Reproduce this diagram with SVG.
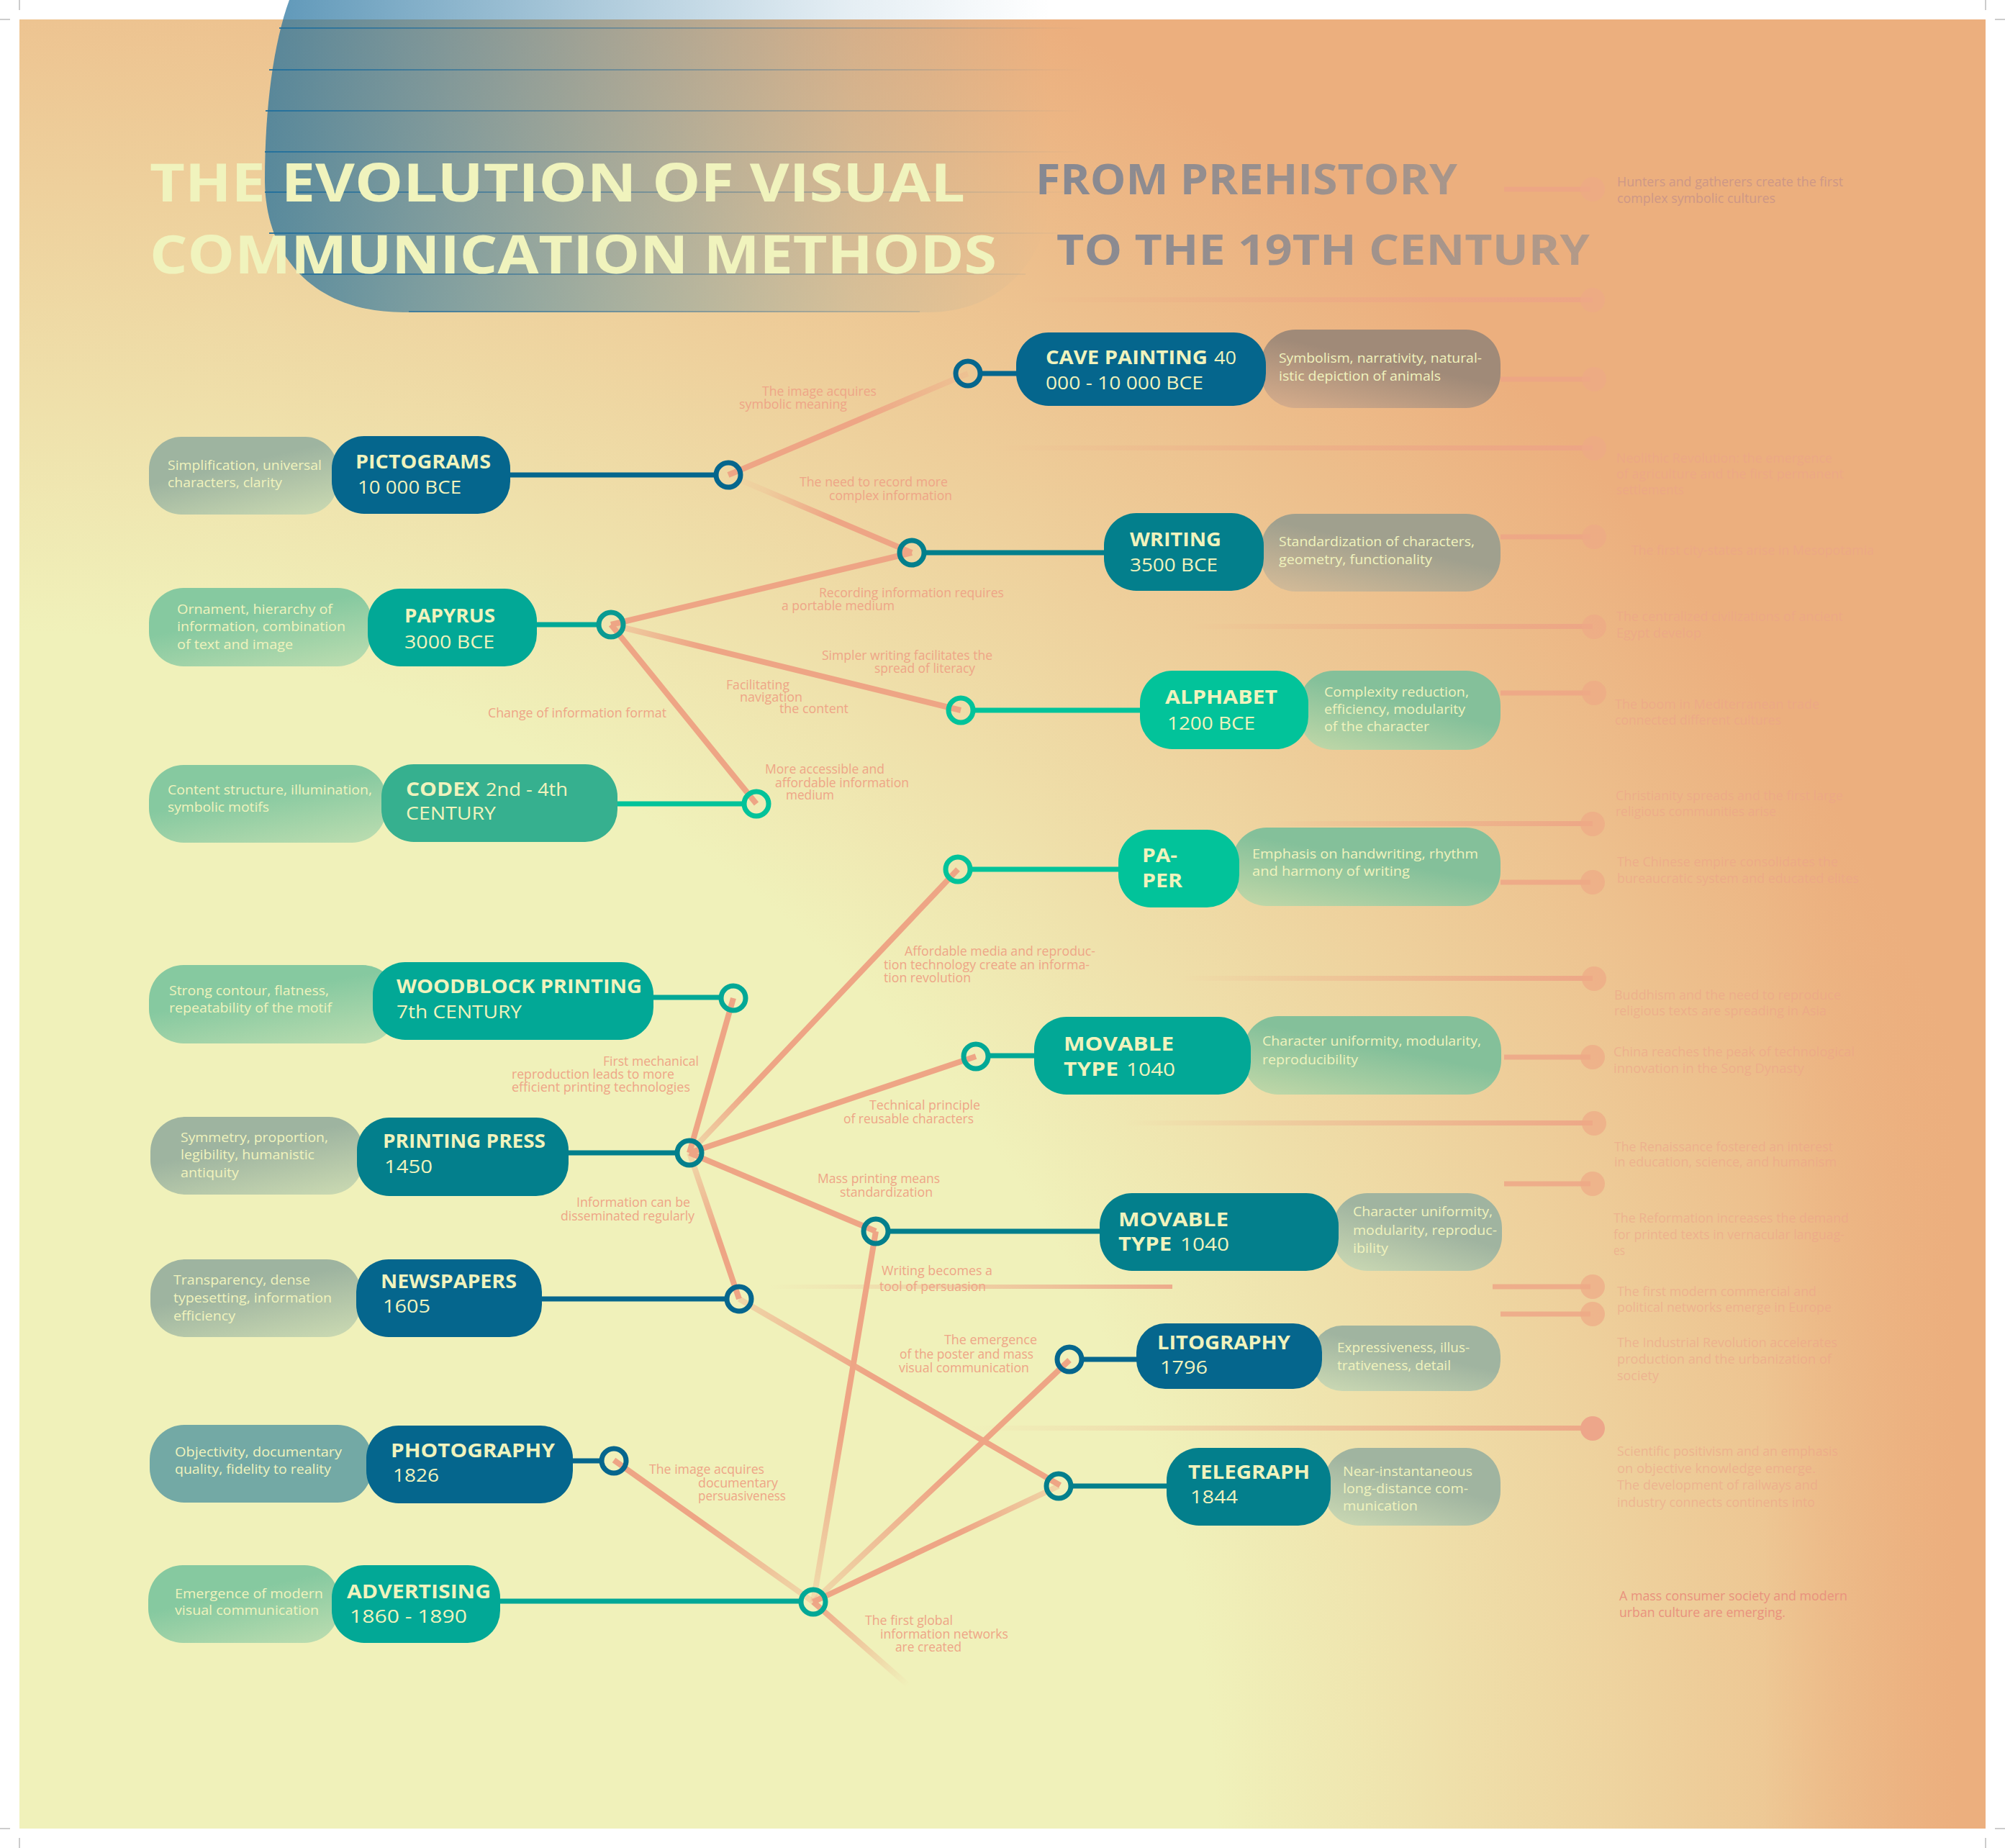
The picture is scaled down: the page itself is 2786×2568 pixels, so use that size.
<svg xmlns="http://www.w3.org/2000/svg" width="2786" height="2568" viewBox="0 0 2786 2568">
<style>
.nt{font-family:"Open Sans","DejaVu Sans",sans-serif;font-weight:700;font-size:26px;fill:#F0F3BD}
.nr{font-family:"Open Sans","DejaVu Sans",sans-serif;font-weight:400;font-size:26px;fill:#F0F3BD}
.dt{font-family:"Open Sans","DejaVu Sans",sans-serif;font-size:19px;fill:#F0F3BD}
.lb{font-family:"Open Sans","DejaVu Sans",sans-serif;font-size:18px;fill:#EEA587}
.tl{font-family:"Open Sans","DejaVu Sans",sans-serif;font-size:19px;fill:#EDA38A;fill-opacity:0.6}
.tt{font-family:"Open Sans","DejaVu Sans",sans-serif;font-weight:700;font-size:74px;fill:#F0F3BD}
.st{font-family:"Open Sans","DejaVu Sans",sans-serif;font-weight:700;font-size:59px;fill:#8E8A8C}
.edge{fill:none;stroke-width:8}
.hc{fill:none;stroke-width:7}
.jc{fill:none;stroke-width:7}
.tc{fill:#EEA986;fill-opacity:0.7}
.tline{fill:none;stroke-width:7}
.mark{stroke:#9a9a9a;stroke-width:1}
</style>
<defs>
<radialGradient id="bgO" gradientUnits="userSpaceOnUse" cx="0" cy="2568" r="2932">
<stop offset="0" stop-color="#ECAF7E" stop-opacity="0"/>
<stop offset="0.576" stop-color="#ECAF7E" stop-opacity="0"/>
<stop offset="1" stop-color="#ECAF7E" stop-opacity="1"/>
</radialGradient>
<linearGradient id="bgR" gradientUnits="userSpaceOnUse" x1="2450" y1="0" x2="2720" y2="0">
<stop offset="0" stop-color="#ECAF7E" stop-opacity="0"/>
<stop offset="1" stop-color="#ECAF7E" stop-opacity="1"/>
</linearGradient>
<linearGradient id="blob" gradientUnits="userSpaceOnUse" x1="368" y1="0" x2="1460" y2="0">
<stop offset="0" stop-color="#1E6E9C" stop-opacity="0.72"/>
<stop offset="0.4" stop-color="#2A76A2" stop-opacity="0.4"/>
<stop offset="0.75" stop-color="#3A80AA" stop-opacity="0.13"/>
<stop offset="1" stop-color="#3A80AA" stop-opacity="0"/>
</linearGradient>
<linearGradient id="blobLine" gradientUnits="userSpaceOnUse" x1="368" y1="0" x2="1510" y2="0">
<stop offset="0" stop-color="#1E6E9C" stop-opacity="0.9"/>
<stop offset="0.6" stop-color="#5A7F95" stop-opacity="0.45"/>
<stop offset="1" stop-color="#5A7F95" stop-opacity="0"/>
</linearGradient>
<linearGradient id="subG" gradientUnits="userSpaceOnUse" x1="1440" y1="0" x2="2210" y2="0">
<stop offset="0" stop-color="#858892"/>
<stop offset="1" stop-color="#B49A88"/>
</linearGradient>
<linearGradient id="tlFade" x1="0" y1="0" x2="1" y2="0">
<stop offset="0" stop-color="#EDA486" stop-opacity="0"/>
<stop offset="0.7" stop-color="#EDA486" stop-opacity="0.6"/>
<stop offset="1" stop-color="#EDA486" stop-opacity="0.9"/>
</linearGradient>
<linearGradient id="bubLgrey" x1="0.55" y1="0.3" x2="0.95" y2="1">
<stop offset="0" stop-color="#9EB4A0"/><stop offset="1" stop-color="#CBDAB2"/>
</linearGradient>
<linearGradient id="bubLmint" x1="0.55" y1="0.3" x2="0.95" y2="1">
<stop offset="0" stop-color="#86C9A0"/><stop offset="1" stop-color="#BCDDB0"/>
</linearGradient>
<linearGradient id="bubRcave" x1="0.45" y1="0.35" x2="0.02" y2="1">
<stop offset="0" stop-color="#A08A78"/><stop offset="1" stop-color="#D8AE8C"/>
</linearGradient>
<linearGradient id="bubRwrite" x1="0.45" y1="0.35" x2="0.02" y2="1">
<stop offset="0" stop-color="#A0A08E"/><stop offset="1" stop-color="#D6BC98"/>
</linearGradient>
<linearGradient id="bubRmint" x1="0.45" y1="0.35" x2="0.02" y2="1">
<stop offset="0" stop-color="#84C09A"/><stop offset="1" stop-color="#C2D8A8"/>
</linearGradient>
<linearGradient id="bubRgrey" x1="0.45" y1="0.35" x2="0.02" y2="1">
<stop offset="0" stop-color="#A0B4A0"/><stop offset="1" stop-color="#CCDAB4"/>
</linearGradient>
<linearGradient id="e1" gradientUnits="userSpaceOnUse" x1="1012" y1="660" x2="1345" y2="519"><stop offset="0" stop-color="#EEA585"/><stop offset="0.55" stop-color="#EEA585"/><stop offset="1" stop-color="#EEA585" stop-opacity="0.2"/></linearGradient>
<linearGradient id="e2" gradientUnits="userSpaceOnUse" x1="1012" y1="660" x2="1267" y2="768"><stop offset="0" stop-color="#EEA585" stop-opacity="0"/><stop offset="0.2" stop-color="#EEA585" stop-opacity="0.2"/><stop offset="0.55" stop-color="#EEA585"/><stop offset="1" stop-color="#EEA585"/></linearGradient>
<linearGradient id="e4" gradientUnits="userSpaceOnUse" x1="849" y1="868" x2="1335" y2="987"><stop offset="0" stop-color="#EEA585" stop-opacity="0.3"/><stop offset="0.25" stop-color="#EEA585"/><stop offset="1" stop-color="#EEA585"/></linearGradient>
<linearGradient id="e7" gradientUnits="userSpaceOnUse" x1="958" y1="1602" x2="1331" y2="1208"><stop offset="0" stop-color="#EEA585" stop-opacity="0.3"/><stop offset="0.22" stop-color="#EEA585"/><stop offset="1" stop-color="#EEA585"/></linearGradient>
<linearGradient id="e10" gradientUnits="userSpaceOnUse" x1="958" y1="1602" x2="1027" y2="1805"><stop offset="0" stop-color="#EEA585" stop-opacity="0.3"/><stop offset="0.6" stop-color="#EEA585"/><stop offset="1" stop-color="#EEA585"/></linearGradient>
<linearGradient id="e11" gradientUnits="userSpaceOnUse" x1="1027" y1="1805" x2="1473" y2="2064"><stop offset="0" stop-color="#EEA585" stop-opacity="0.35"/><stop offset="0.4" stop-color="#EEA585"/><stop offset="1" stop-color="#EEA585"/></linearGradient>
<linearGradient id="e12" gradientUnits="userSpaceOnUse" x1="1217" y1="1711" x2="1130" y2="2226"><stop offset="0" stop-color="#EEA585"/><stop offset="0.55" stop-color="#EEA585"/><stop offset="1" stop-color="#EEA585" stop-opacity="0.25"/></linearGradient>
<linearGradient id="e13" gradientUnits="userSpaceOnUse" x1="853" y1="2029" x2="1130" y2="2226"><stop offset="0" stop-color="#EEA585"/><stop offset="0.45" stop-color="#EEA585"/><stop offset="1" stop-color="#EEA585" stop-opacity="0.3"/></linearGradient>
<linearGradient id="e14" gradientUnits="userSpaceOnUse" x1="1130" y1="2226" x2="1486" y2="1890"><stop offset="0" stop-color="#EEA585" stop-opacity="0.3"/><stop offset="0.5" stop-color="#EEA585"/><stop offset="1" stop-color="#EEA585"/></linearGradient>
<linearGradient id="e15" gradientUnits="userSpaceOnUse" x1="1130" y1="2226" x2="1471" y2="2065"><stop offset="0" stop-color="#EEA585"/><stop offset="0.6" stop-color="#EEA585"/><stop offset="1" stop-color="#EEA585" stop-opacity="0.35"/></linearGradient>
<linearGradient id="e16" gradientUnits="userSpaceOnUse" x1="1130" y1="2226" x2="1262" y2="2342"><stop offset="0" stop-color="#EEA585"/><stop offset="1" stop-color="#EEA585" stop-opacity="0"/></linearGradient>
</defs>

<g id="background">
<rect x="0" y="0" width="2786" height="2568" fill="#FFFFFF"/>
<rect x="27" y="27" width="2732" height="2514" fill="#F0F1BA"/>
<rect x="27" y="27" width="2732" height="2514" fill="url(#bgO)"/>
<rect x="27" y="27" width="2732" height="2514" fill="url(#bgR)"/>
<line class="mark" x1="27" y1="0" x2="27" y2="14"/><line class="mark" x1="0" y1="27" x2="14" y2="27"/>
<line class="mark" x1="2759" y1="0" x2="2759" y2="14"/><line class="mark" x1="2772" y1="27" x2="2786" y2="27"/>
<line class="mark" x1="27" y1="2554" x2="27" y2="2568"/><line class="mark" x1="0" y1="2541" x2="14" y2="2541"/>
<line class="mark" x1="2759" y1="2554" x2="2759" y2="2568"/><line class="mark" x1="2772" y1="2541" x2="2786" y2="2541"/>
</g>

<g id="title">
<path d="M402 0 L1460 0 L1460 260 C1460 360 1390 434 1290 434 L560 434 C440 434 368 360 368 250 C368 150 380 60 402 0 Z" fill="url(#blob)"/>
<g stroke="url(#blobLine)" stroke-width="2">
<line x1="388" y1="39" x2="1506" y2="39"/>
<line x1="374" y1="97" x2="1506" y2="97"/>
<line x1="369" y1="154" x2="1506" y2="154"/>
<line x1="368" y1="211" x2="1500" y2="211"/>
<line x1="368" y1="267" x2="1490" y2="267"/>
<line x1="374" y1="324" x2="1470" y2="324"/>
<line x1="420" y1="381" x2="1425" y2="381"/>
<line x1="568" y1="433" x2="1278" y2="433"/>
</g>
<text class="tt" x="208" y="280" textLength="1133" lengthAdjust="spacingAndGlyphs">THE EVOLUTION OF VISUAL</text>
<text class="tt" x="208" y="380" textLength="1177" lengthAdjust="spacingAndGlyphs">COMMUNICATION METHODS</text>
<text class="st" x="1439" y="270" style="fill:url(#subG)" textLength="586" lengthAdjust="spacingAndGlyphs">FROM PREHISTORY</text>
<text class="st" x="1468" y="368" style="fill:url(#subG)" textLength="741" lengthAdjust="spacingAndGlyphs">TO THE 19TH CENTURY</text>
</g>

<g id="timeline">
<line class="tline" x1="2090" y1="263" x2="2210" y2="263" stroke="#EDA486" stroke-opacity="0.8"/>
<rect x="1420" y="413" width="793" height="7" fill="url(#tlFade)"/>
<line class="tline" x1="2085" y1="527" x2="2210" y2="527" stroke="#EDA486" stroke-opacity="0.8"/>
<rect x="1380" y="619" width="833" height="7" fill="url(#tlFade)"/>
<line class="tline" x1="2085" y1="746" x2="2210" y2="746" stroke="#EDA486" stroke-opacity="0.8"/>
<rect x="1650" y="867" width="563" height="7" fill="url(#tlFade)"/>
<line class="tline" x1="2085" y1="963" x2="2210" y2="963" stroke="#EDA486" stroke-opacity="0.8"/>
<rect x="1757" y="1141" width="456" height="7" fill="url(#tlFade)"/>
<line class="tline" x1="2085" y1="1226" x2="2210" y2="1226" stroke="#EDA486" stroke-opacity="0.8"/>
<rect x="1640" y="1356" width="573" height="7" fill="url(#tlFade)"/>
<line class="tline" x1="2090" y1="1469" x2="2210" y2="1469" stroke="#EDA486" stroke-opacity="0.8"/>
<rect x="1560" y="1557" width="653" height="7" fill="url(#tlFade)"/>
<line class="tline" x1="2090" y1="1645" x2="2210" y2="1645" stroke="#EDA486" stroke-opacity="0.8"/>
<rect x="1069" y="1785" width="560" height="6" fill="url(#tlFade)"/>
<line class="tline" x1="2074" y1="1788" x2="2210" y2="1788" stroke="#EDA486" stroke-opacity="0.8"/>
<line class="tline" x1="2085" y1="1826" x2="2210" y2="1826" stroke="#EDA486" stroke-opacity="0.8"/>
<rect x="1347" y="1981" width="866" height="7" fill="url(#tlFade)"/>
<circle class="tc" cx="2213" cy="263" r="17"/>
<circle class="tc" cx="2213" cy="417" r="17"/>
<circle class="tc" cx="2215" cy="527" r="17"/>
<circle class="tc" cx="2215" cy="623" r="17"/>
<circle class="tc" cx="2215" cy="746" r="17"/>
<circle class="tc" cx="2215" cy="871" r="17"/>
<circle class="tc" cx="2215" cy="963" r="17"/>
<circle class="tc" cx="2213" cy="1145" r="17"/>
<circle class="tc" cx="2213" cy="1226" r="17"/>
<circle class="tc" cx="2215" cy="1360" r="17"/>
<circle class="tc" cx="2213" cy="1469" r="17"/>
<circle class="tc" cx="2215" cy="1561" r="17"/>
<circle class="tc" cx="2213" cy="1645" r="17"/>
<circle class="tc" cx="2213" cy="1788" r="17"/>
<circle class="tc" cx="2213" cy="1826" r="17"/>
<circle cx="2213" cy="1985" r="17" fill="#EDA68A"/>
<text class="tl" style="fill:#C99488;fill-opacity:0.9" x="2247" y="259" textLength="314" lengthAdjust="spacingAndGlyphs">Hunters and gatherers create the first</text>
<text class="tl" style="fill:#C99488;fill-opacity:0.9" x="2247" y="282" textLength="220" lengthAdjust="spacingAndGlyphs">complex symbolic cultures</text>
<text class="tl" x="2246" y="643" textLength="300" lengthAdjust="spacingAndGlyphs">Neolithic Revolution: the emergence</text>
<text class="tl" x="2246" y="665" textLength="316" lengthAdjust="spacingAndGlyphs">of agriculture and the first permanent</text>
<text class="tl" x="2246" y="687" textLength="94" lengthAdjust="spacingAndGlyphs">settlements</text>
<text class="tl" x="2267" y="771" textLength="337" lengthAdjust="spacingAndGlyphs">The first city-states arise in Mesopotamia</text>
<text class="tl" x="2246" y="863" textLength="315" lengthAdjust="spacingAndGlyphs">The centralized civilizations of ancient</text>
<text class="tl" x="2246" y="886" textLength="118" lengthAdjust="spacingAndGlyphs">Egypt develop</text>
<text class="tl" x="2244" y="985" textLength="284" lengthAdjust="spacingAndGlyphs">The boom in Mediterranean trade</text>
<text class="tl" x="2244" y="1007" textLength="231" lengthAdjust="spacingAndGlyphs">connected different cultures</text>
<text class="tl" x="2245" y="1112" textLength="316" lengthAdjust="spacingAndGlyphs">Christianity spreads and the first large</text>
<text class="tl" x="2245" y="1134" textLength="223" lengthAdjust="spacingAndGlyphs">religious communities arise</text>
<text class="tl" x="2247" y="1204" textLength="307" lengthAdjust="spacingAndGlyphs">The Chinese empire consolidates the</text>
<text class="tl" x="2247" y="1227" textLength="336" lengthAdjust="spacingAndGlyphs">bureaucratic system and educated elites</text>
<text class="tl" x="2243" y="1389" textLength="315" lengthAdjust="spacingAndGlyphs">Buddhism and the need to reproduce</text>
<text class="tl" x="2243" y="1411" textLength="295" lengthAdjust="spacingAndGlyphs">religious texts are spreading in Asia</text>
<text class="tl" x="2242" y="1468" textLength="335" lengthAdjust="spacingAndGlyphs">China reaches the peak of technological</text>
<text class="tl" x="2242" y="1491" textLength="265" lengthAdjust="spacingAndGlyphs">innovation in the Song Dynasty</text>
<text class="tl" x="2243" y="1600" textLength="304" lengthAdjust="spacingAndGlyphs">The Renaissance fostered an interest</text>
<text class="tl" x="2243" y="1621" textLength="309" lengthAdjust="spacingAndGlyphs">in education, science, and humanism</text>
<text class="tl" x="2242" y="1699" textLength="327" lengthAdjust="spacingAndGlyphs">The Reformation increases the demand</text>
<text class="tl" x="2242" y="1722" textLength="321" lengthAdjust="spacingAndGlyphs">for printed texts in vernacular languag-</text>
<text class="tl" x="2242" y="1744" textLength="16" lengthAdjust="spacingAndGlyphs">es</text>
<text class="tl" x="2247" y="1801" textLength="277" lengthAdjust="spacingAndGlyphs">The first modern commercial and</text>
<text class="tl" x="2247" y="1823" textLength="298" lengthAdjust="spacingAndGlyphs">political networks emerge in Europe</text>
<text class="tl" x="2247" y="1872" textLength="306" lengthAdjust="spacingAndGlyphs">The Industrial Revolution accelerates</text>
<text class="tl" x="2247" y="1895" textLength="298" lengthAdjust="spacingAndGlyphs">production and the urbanization of</text>
<text class="tl" x="2247" y="1918" textLength="58" lengthAdjust="spacingAndGlyphs">society</text>
<text class="tl" x="2247" y="2023" textLength="307" lengthAdjust="spacingAndGlyphs">Scientific positivism and an emphasis</text>
<text class="tl" x="2247" y="2047" textLength="276" lengthAdjust="spacingAndGlyphs">on objective knowledge emerge.</text>
<text class="tl" x="2247" y="2070" textLength="279" lengthAdjust="spacingAndGlyphs">The development of railways and</text>
<text class="tl" x="2247" y="2094" textLength="275" lengthAdjust="spacingAndGlyphs">industry connects continents into</text>
<text class="tl" style="fill:#E9927E;fill-opacity:1" x="2250" y="2224" textLength="317" lengthAdjust="spacingAndGlyphs">A mass consumer society and modern</text>
<text class="tl" style="fill:#E9927E;fill-opacity:1" x="2250" y="2247" textLength="231" lengthAdjust="spacingAndGlyphs">urban culture are emerging.</text>
</g>

<g id="connectors">
<line class="edge" stroke="url(#e1)" x1="1012" y1="660" x2="1345" y2="519"/>
<line class="edge" stroke="url(#e2)" x1="1012" y1="660" x2="1267" y2="768"/>
<line class="edge" stroke="#EEA585" x1="849" y1="868" x2="1267" y2="768"/>
<line class="edge" stroke="url(#e4)" x1="849" y1="868" x2="1335" y2="987"/>
<line class="edge" stroke="#EEA585" x1="849" y1="868" x2="1051" y2="1117"/>
<line class="edge" stroke="#EEA585" x1="1019" y1="1387" x2="958" y2="1602"/>
<line class="edge" stroke="url(#e7)" x1="958" y1="1602" x2="1331" y2="1208"/>
<line class="edge" stroke="#EEA585" x1="958" y1="1602" x2="1356" y2="1468"/>
<line class="edge" stroke="#EEA585" x1="958" y1="1602" x2="1217" y2="1711"/>
<line class="edge" stroke="url(#e10)" x1="958" y1="1602" x2="1027" y2="1805"/>
<line class="edge" stroke="url(#e11)" x1="1027" y1="1805" x2="1473" y2="2064"/>
<line class="edge" stroke="url(#e12)" x1="1217" y1="1711" x2="1130" y2="2226"/>
<line class="edge" stroke="url(#e13)" x1="853" y1="2029" x2="1130" y2="2226"/>
<line class="edge" stroke="url(#e14)" x1="1130" y1="2226" x2="1486" y2="1890"/>
<line class="edge" stroke="url(#e15)" x1="1130" y1="2226" x2="1471" y2="2065"/>
<line class="edge" stroke="url(#e16)" x1="1130" y1="2226" x2="1262" y2="2342"/>

<line class="hc" stroke="#05668D" x1="705" y1="660" x2="995" y2="660"/>
<line class="hc" stroke="#05668D" x1="1362" y1="519" x2="1416" y2="519"/>
<line class="hc" stroke="#037F8C" x1="1284" y1="768" x2="1538" y2="768"/>
<line class="hc" stroke="#02A896" x1="742" y1="868" x2="832" y2="868"/>
<line class="hc" stroke="#02C39A" x1="1352" y1="987" x2="1588" y2="987"/>
<line class="hc" stroke="#02C39A" x1="854" y1="1117" x2="1034" y2="1117"/>
<line class="hc" stroke="#02C39A" x1="1348" y1="1208" x2="1558" y2="1208"/>
<line class="hc" stroke="#02A896" x1="904" y1="1386" x2="1002" y2="1386"/>
<line class="hc" stroke="#02A896" x1="1373" y1="1467" x2="1441" y2="1467"/>
<line class="hc" stroke="#037F8C" x1="786" y1="1602" x2="941" y2="1602"/>
<line class="hc" stroke="#037F8C" x1="1234" y1="1711" x2="1532" y2="1711"/>
<line class="hc" stroke="#05668D" x1="749" y1="1805" x2="1010" y2="1805"/>
<line class="hc" stroke="#05668D" x1="1503" y1="1889" x2="1583" y2="1889"/>
<line class="hc" stroke="#05668D" x1="792" y1="2030" x2="836" y2="2030"/>
<line class="hc" stroke="#037F8C" x1="1488" y1="2065" x2="1625" y2="2065"/>
<line class="hc" stroke="#02A896" x1="691" y1="2225" x2="1113" y2="2225"/>

<circle class="jc" stroke="#05668D" cx="1012" cy="660" r="17"/>
<circle class="jc" stroke="#05668D" cx="1345" cy="519" r="17"/>
<circle class="jc" stroke="#037F8C" cx="1267" cy="768" r="17"/>
<circle class="jc" stroke="#0A9A92" cx="849" cy="868" r="17"/>
<circle class="jc" stroke="#02C39A" cx="1335" cy="987" r="17"/>
<circle class="jc" stroke="#02C39A" cx="1051" cy="1117" r="17"/>
<circle class="jc" stroke="#02C39A" cx="1331" cy="1208" r="17"/>
<circle class="jc" stroke="#02A896" cx="1019" cy="1387" r="17"/>
<circle class="jc" stroke="#02A896" cx="1356" cy="1468" r="17"/>
<circle class="jc" stroke="#037F8C" cx="958" cy="1602" r="17"/>
<circle class="jc" stroke="#037F8C" cx="1217" cy="1711" r="17"/>
<circle class="jc" stroke="#05668D" cx="1027" cy="1805" r="17"/>
<circle class="jc" stroke="#05668D" cx="1486" cy="1889" r="17"/>
<circle class="jc" stroke="#05668D" cx="853" cy="2030" r="17"/>
<circle class="jc" stroke="#037F8C" cx="1471" cy="2065" r="17"/>
<circle class="jc" stroke="#02A896" cx="1130" cy="2226" r="17"/>

<text class="lb" x="1059" y="550" textLength="159" lengthAdjust="spacingAndGlyphs">The image acquires</text>
<text class="lb" x="1027" y="568" textLength="150" lengthAdjust="spacingAndGlyphs">symbolic meaning</text>
<text class="lb" x="1111" y="676" textLength="206" lengthAdjust="spacingAndGlyphs">The need to record more</text>
<text class="lb" x="1152" y="695" textLength="171" lengthAdjust="spacingAndGlyphs">complex information</text>
<text class="lb" x="1138" y="830" textLength="257" lengthAdjust="spacingAndGlyphs">Recording information requires</text>
<text class="lb" x="1086" y="848" textLength="157" lengthAdjust="spacingAndGlyphs">a portable medium</text>
<text class="lb" x="1142" y="917" textLength="237" lengthAdjust="spacingAndGlyphs">Simpler writing facilitates the</text>
<text class="lb" x="1215" y="935" textLength="140" lengthAdjust="spacingAndGlyphs">spread of literacy</text>
<text class="lb" x="678" y="997" style="font-size:19px" textLength="248" lengthAdjust="spacingAndGlyphs">Change of information format</text>
<text class="lb" x="1009" y="958" textLength="88" lengthAdjust="spacingAndGlyphs">Facilitating</text>
<text class="lb" x="1028" y="975" textLength="87" lengthAdjust="spacingAndGlyphs">navigation</text>
<text class="lb" x="1083" y="991" textLength="96" lengthAdjust="spacingAndGlyphs">the content</text>
<text class="lb" x="1063" y="1075" textLength="166" lengthAdjust="spacingAndGlyphs">More accessible and</text>
<text class="lb" x="1077" y="1094" textLength="186" lengthAdjust="spacingAndGlyphs">affordable information</text>
<text class="lb" x="1092" y="1111" textLength="67" lengthAdjust="spacingAndGlyphs">medium</text>
<text class="lb" x="838" y="1481" textLength="133" lengthAdjust="spacingAndGlyphs">First mechanical</text>
<text class="lb" x="711" y="1499" textLength="226" lengthAdjust="spacingAndGlyphs">reproduction leads to more</text>
<text class="lb" x="711" y="1517" textLength="248" lengthAdjust="spacingAndGlyphs">efficient printing technologies</text>
<text class="lb" x="1257" y="1328" textLength="265" lengthAdjust="spacingAndGlyphs">Affordable media and reproduc-</text>
<text class="lb" x="1228" y="1347" textLength="286" lengthAdjust="spacingAndGlyphs">tion technology create an informa-</text>
<text class="lb" x="1228" y="1365" textLength="121" lengthAdjust="spacingAndGlyphs">tion revolution</text>
<text class="lb" x="1208" y="1542" textLength="154" lengthAdjust="spacingAndGlyphs">Technical principle</text>
<text class="lb" x="1172" y="1561" textLength="181" lengthAdjust="spacingAndGlyphs">of reusable characters</text>
<text class="lb" x="1136" y="1644" textLength="170" lengthAdjust="spacingAndGlyphs">Mass printing means</text>
<text class="lb" x="1167" y="1663" textLength="129" lengthAdjust="spacingAndGlyphs">standardization</text>
<text class="lb" x="801" y="1677" textLength="158" lengthAdjust="spacingAndGlyphs">Information can be</text>
<text class="lb" x="779" y="1696" textLength="186" lengthAdjust="spacingAndGlyphs">disseminated regularly</text>
<text class="lb" x="1225" y="1772" textLength="154" lengthAdjust="spacingAndGlyphs">Writing becomes a</text>
<text class="lb" x="1222" y="1794" textLength="148" lengthAdjust="spacingAndGlyphs">tool of persuasion</text>
<text class="lb" x="1312" y="1868" textLength="129" lengthAdjust="spacingAndGlyphs">The emergence</text>
<text class="lb" x="1250" y="1888" textLength="186" lengthAdjust="spacingAndGlyphs">of the poster and mass</text>
<text class="lb" x="1249" y="1907" textLength="181" lengthAdjust="spacingAndGlyphs">visual communication</text>
<text class="lb" x="902" y="2048" textLength="160" lengthAdjust="spacingAndGlyphs">The image acquires</text>
<text class="lb" x="970" y="2067" textLength="111" lengthAdjust="spacingAndGlyphs">documentary</text>
<text class="lb" x="970" y="2085" textLength="122" lengthAdjust="spacingAndGlyphs">persuasiveness</text>
<text class="lb" x="1202" y="2258" textLength="122" lengthAdjust="spacingAndGlyphs">The first global</text>
<text class="lb" x="1223" y="2277" textLength="178" lengthAdjust="spacingAndGlyphs">information networks</text>
<text class="lb" x="1244" y="2295" textLength="92" lengthAdjust="spacingAndGlyphs">are created</text>
</g>

<g id="node-pictograms">
<rect x="207" y="607" width="262" height="108" rx="45" fill="url(#bubLgrey)"/>
<rect x="461" y="606" width="248" height="108" rx="45" fill="#05668D"/>
<text class="nt" x="494" y="651" textLength="188" lengthAdjust="spacingAndGlyphs">PICTOGRAMS</text>
<text class="nr" x="497" y="686" textLength="144" lengthAdjust="spacingAndGlyphs">10 000 BCE</text>
<text class="dt" x="233" y="653" textLength="214" lengthAdjust="spacingAndGlyphs">Simplification, universal</text>
<text class="dt" x="233" y="677" textLength="159" lengthAdjust="spacingAndGlyphs">characters, clarity</text>
</g>

<g id="node-cave-painting">
<rect x="1752" y="458" width="333" height="109" rx="48" fill="url(#bubRcave)"/>
<rect x="1412" y="462" width="347" height="102" rx="45" fill="#05668D"/>
<text class="nt" x="1453" y="506" textLength="225" lengthAdjust="spacingAndGlyphs">CAVE PAINTING</text>
<text class="nr" x="1687" y="506" textLength="31" lengthAdjust="spacingAndGlyphs">40</text>
<text class="nr" x="1453" y="541" textLength="219" lengthAdjust="spacingAndGlyphs">000 - 10 000 BCE</text>
<text class="dt" x="1777" y="504" textLength="282" lengthAdjust="spacingAndGlyphs">Symbolism, narrativity, natural-</text>
<text class="dt" x="1777" y="529" textLength="225" lengthAdjust="spacingAndGlyphs">istic depiction of animals</text>
</g>

<g id="node-writing">
<rect x="1752" y="714" width="333" height="108" rx="48" fill="url(#bubRwrite)"/>
<rect x="1534" y="713" width="222" height="108" rx="45" fill="#037F8C"/>
<text class="nt" x="1570" y="759" textLength="127" lengthAdjust="spacingAndGlyphs">WRITING</text>
<text class="nr" x="1570" y="794" textLength="122" lengthAdjust="spacingAndGlyphs">3500 BCE</text>
<text class="dt" x="1777" y="759" textLength="272" lengthAdjust="spacingAndGlyphs">Standardization of characters,</text>
<text class="dt" x="1777" y="784" textLength="213" lengthAdjust="spacingAndGlyphs">geometry, functionality</text>
</g>

<g id="node-papyrus">
<rect x="207" y="817" width="310" height="109" rx="48" fill="url(#bubLmint)"/>
<rect x="511" y="818" width="235" height="108" rx="45" fill="#02A896"/>
<text class="nt" x="562" y="865" textLength="126" lengthAdjust="spacingAndGlyphs">PAPYRUS</text>
<text class="nr" x="562" y="901" textLength="125" lengthAdjust="spacingAndGlyphs">3000 BCE</text>
<text class="dt" x="246" y="853" textLength="216" lengthAdjust="spacingAndGlyphs">Ornament, hierarchy of</text>
<text class="dt" x="246" y="877" textLength="234" lengthAdjust="spacingAndGlyphs">information, combination</text>
<text class="dt" x="246" y="902" textLength="161" lengthAdjust="spacingAndGlyphs">of text and image</text>
</g>

<g id="node-alphabet">
<rect x="1805" y="932" width="280" height="110" rx="48" fill="url(#bubRmint)"/>
<rect x="1584" y="932" width="234" height="109" rx="45" fill="#02C39A"/>
<text class="nt" x="1619" y="978" textLength="156" lengthAdjust="spacingAndGlyphs">ALPHABET</text>
<text class="nr" x="1622" y="1014" textLength="122" lengthAdjust="spacingAndGlyphs">1200 BCE</text>
<text class="dt" x="1840" y="968" textLength="201" lengthAdjust="spacingAndGlyphs">Complexity reduction,</text>
<text class="dt" x="1840" y="992" textLength="196" lengthAdjust="spacingAndGlyphs">efficiency, modularity</text>
<text class="dt" x="1840" y="1016" textLength="146" lengthAdjust="spacingAndGlyphs">of the character</text>
</g>

<g id="node-codex">
<rect x="207" y="1063" width="330" height="108" rx="48" fill="url(#bubLmint)"/>
<rect x="530" y="1062" width="328" height="108" rx="45" fill="#36B08F"/>
<text class="nt" x="564" y="1106" textLength="102" lengthAdjust="spacingAndGlyphs">CODEX</text>
<text class="nr" x="675" y="1106" textLength="114" lengthAdjust="spacingAndGlyphs">2nd - 4th</text>
<text class="nr" x="564" y="1139" textLength="125" lengthAdjust="spacingAndGlyphs">CENTURY</text>
<text class="dt" x="233" y="1104" textLength="284" lengthAdjust="spacingAndGlyphs">Content structure, illumination,</text>
<text class="dt" x="233" y="1128" textLength="141" lengthAdjust="spacingAndGlyphs">symbolic motifs</text>
</g>

<g id="node-paper">
<rect x="1712" y="1150" width="373" height="109" rx="48" fill="url(#bubRmint)"/>
<rect x="1554" y="1153" width="168" height="108" rx="45" fill="#02C39A"/>
<text class="nt" x="1587" y="1198" textLength="49" lengthAdjust="spacingAndGlyphs">PA-</text>
<text class="nt" x="1587" y="1233" textLength="56" lengthAdjust="spacingAndGlyphs">PER</text>
<text class="dt" x="1740" y="1193" textLength="314" lengthAdjust="spacingAndGlyphs">Emphasis on handwriting, rhythm</text>
<text class="dt" x="1740" y="1217" textLength="219" lengthAdjust="spacingAndGlyphs">and harmony of writing</text>
</g>

<g id="node-woodblock-printing">
<rect x="207" y="1341" width="345" height="109" rx="48" fill="url(#bubLmint)"/>
<rect x="518" y="1337" width="390" height="108" rx="45" fill="#02A896"/>
<text class="nt" x="551" y="1380" textLength="341" lengthAdjust="spacingAndGlyphs">WOODBLOCK PRINTING</text>
<text class="nr" x="551" y="1415" textLength="174" lengthAdjust="spacingAndGlyphs">7th CENTURY</text>
<text class="dt" x="235" y="1383" textLength="222" lengthAdjust="spacingAndGlyphs">Strong contour, flatness,</text>
<text class="dt" x="235" y="1407" textLength="226" lengthAdjust="spacingAndGlyphs">repeatability of the motif</text>
</g>

<g id="node-movable-type-1">
<rect x="1728" y="1412" width="358" height="109" rx="48" fill="url(#bubRmint)"/>
<rect x="1437" y="1413" width="301" height="108" rx="45" fill="#02A896"/>
<text class="nt" x="1478" y="1460" textLength="153" lengthAdjust="spacingAndGlyphs">MOVABLE</text>
<text class="nt" x="1478" y="1495" textLength="76" lengthAdjust="spacingAndGlyphs">TYPE</text>
<text class="nr" x="1565" y="1495" textLength="68" lengthAdjust="spacingAndGlyphs">1040</text>
<text class="dt" x="1754" y="1453" textLength="304" lengthAdjust="spacingAndGlyphs">Character uniformity, modularity,</text>
<text class="dt" x="1754" y="1479" textLength="133" lengthAdjust="spacingAndGlyphs">reproducibility</text>
</g>

<g id="node-printing-press">
<rect x="209" y="1552" width="296" height="108" rx="48" fill="url(#bubLgrey)"/>
<rect x="496" y="1553" width="294" height="109" rx="45" fill="#037F8C"/>
<text class="nt" x="532" y="1595" textLength="226" lengthAdjust="spacingAndGlyphs">PRINTING PRESS</text>
<text class="nr" x="534" y="1630" textLength="67" lengthAdjust="spacingAndGlyphs">1450</text>
<text class="dt" x="251" y="1587" textLength="205" lengthAdjust="spacingAndGlyphs">Symmetry, proportion,</text>
<text class="dt" x="251" y="1611" textLength="186" lengthAdjust="spacingAndGlyphs">legibility, humanistic</text>
<text class="dt" x="251" y="1636" textLength="81" lengthAdjust="spacingAndGlyphs">antiquity</text>
</g>

<g id="node-movable-type-2">
<rect x="1852" y="1658" width="235" height="108" rx="48" fill="url(#bubRgrey)"/>
<rect x="1528" y="1658" width="332" height="108" rx="45" fill="#037F8C"/>
<text class="nt" x="1554" y="1704" textLength="153" lengthAdjust="spacingAndGlyphs">MOVABLE</text>
<text class="nt" x="1554" y="1738" textLength="74" lengthAdjust="spacingAndGlyphs">TYPE</text>
<text class="nr" x="1640" y="1738" textLength="68" lengthAdjust="spacingAndGlyphs">1040</text>
<text class="dt" x="1880" y="1690" textLength="194" lengthAdjust="spacingAndGlyphs">Character uniformity,</text>
<text class="dt" x="1880" y="1716" textLength="200" lengthAdjust="spacingAndGlyphs">modularity, reproduc-</text>
<text class="dt" x="1880" y="1741" textLength="49" lengthAdjust="spacingAndGlyphs">ibility</text>
</g>

<g id="node-newspapers">
<rect x="209" y="1750" width="293" height="108" rx="48" fill="url(#bubLgrey)"/>
<rect x="495" y="1750" width="258" height="108" rx="45" fill="#05668D"/>
<text class="nt" x="529" y="1790" textLength="189" lengthAdjust="spacingAndGlyphs">NEWSPAPERS</text>
<text class="nr" x="532" y="1824" textLength="66" lengthAdjust="spacingAndGlyphs">1605</text>
<text class="dt" x="241" y="1785" textLength="190" lengthAdjust="spacingAndGlyphs">Transparency, dense</text>
<text class="dt" x="241" y="1810" textLength="220" lengthAdjust="spacingAndGlyphs">typesetting, information</text>
<text class="dt" x="241" y="1835" textLength="86" lengthAdjust="spacingAndGlyphs">efficiency</text>
</g>

<g id="node-litography">
<rect x="1823" y="1842" width="262" height="91" rx="42" fill="url(#bubRgrey)"/>
<rect x="1579" y="1839" width="258" height="91" rx="40" fill="#05668D"/>
<text class="nt" x="1608" y="1875" textLength="185" lengthAdjust="spacingAndGlyphs">LITOGRAPHY</text>
<text class="nr" x="1612" y="1909" textLength="66" lengthAdjust="spacingAndGlyphs">1796</text>
<text class="dt" x="1858" y="1879" textLength="184" lengthAdjust="spacingAndGlyphs">Expressiveness, illus-</text>
<text class="dt" x="1858" y="1904" textLength="158" lengthAdjust="spacingAndGlyphs">trativeness, detail</text>
</g>

<g id="node-photography">
<rect x="208" y="1980" width="309" height="108" rx="48" fill="#73A9A5"/>
<rect x="509" y="1981" width="287" height="108" rx="45" fill="#05668D"/>
<text class="nt" x="543" y="2025" textLength="228" lengthAdjust="spacingAndGlyphs">PHOTOGRAPHY</text>
<text class="nr" x="546" y="2059" textLength="64" lengthAdjust="spacingAndGlyphs">1826</text>
<text class="dt" x="243" y="2024" textLength="232" lengthAdjust="spacingAndGlyphs">Objectivity, documentary</text>
<text class="dt" x="243" y="2048" textLength="217" lengthAdjust="spacingAndGlyphs">quality, fidelity to reality</text>
</g>

<g id="node-telegraph">
<rect x="1840" y="2012" width="245" height="108" rx="48" fill="url(#bubRgrey)"/>
<rect x="1621" y="2012" width="228" height="108" rx="45" fill="#037F8C"/>
<text class="nt" x="1651" y="2055" textLength="169" lengthAdjust="spacingAndGlyphs">TELEGRAPH</text>
<text class="nr" x="1654" y="2089" textLength="66" lengthAdjust="spacingAndGlyphs">1844</text>
<text class="dt" x="1866" y="2051" textLength="180" lengthAdjust="spacingAndGlyphs">Near-instantaneous</text>
<text class="dt" x="1866" y="2075" textLength="174" lengthAdjust="spacingAndGlyphs">long-distance com-</text>
<text class="dt" x="1866" y="2099" textLength="104" lengthAdjust="spacingAndGlyphs">munication</text>
</g>

<g id="node-advertising">
<rect x="206" y="2175" width="265" height="108" rx="48" fill="url(#bubLmint)"/>
<rect x="461" y="2175" width="234" height="108" rx="45" fill="#02A896"/>
<text class="nt" x="482" y="2221" textLength="200" lengthAdjust="spacingAndGlyphs">ADVERTISING</text>
<text class="nr" x="486" y="2255" textLength="163" lengthAdjust="spacingAndGlyphs">1860 - 1890</text>
<text class="dt" x="243" y="2221" textLength="206" lengthAdjust="spacingAndGlyphs">Emergence of modern</text>
<text class="dt" x="243" y="2244" textLength="200" lengthAdjust="spacingAndGlyphs">visual communication</text>
</g>
</svg>
